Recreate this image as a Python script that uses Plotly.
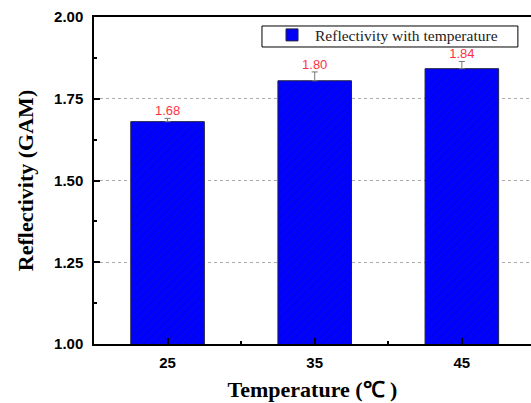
import plotly.graph_objects as go

temps = [25, 35, 45]
reflectivity = [1.68, 1.805, 1.842]
errors = [0.01, 0.027, 0.022]
labels = ["1.68", "1.80", "1.84"]
series_name = "Reflectivity with temperature"

fig = go.Figure()
fig.add_trace(go.Bar(
    x=temps, y=reflectivity, width=5, base=0,
    name=series_name,
    marker=dict(color="#0000ff", line=dict(color="#222244", width=1),
                pattern=dict(shape="/", fgcolor="#1a1a8c", size=6, solidity=0.15)),
    error_y=dict(type="data", array=errors, arrayminus=[0, 0, 0], symmetric=False,
                 color="#777777", thickness=1, width=3),
))
fig.add_trace(go.Scatter(
    x=temps, y=[v + e for v, e in zip(reflectivity, errors)], text=labels,
    mode="text", textposition="top center", showlegend=False,
    textfont=dict(family="Liberation Sans, Arial", size=13, color="#ff3344"),
    cliponaxis=False,
))

# legend frame (compact box like the original)
fig.add_shape(type="rect", xref="paper", yref="paper",
              x0=0.3844, x1=0.970, y0=0.9083, y1=0.9725,
              line=dict(color="black", width=1), fillcolor="white", layer="above")

fig.update_layout(
    width=531, height=403,
    margin=dict(l=94, r=0, t=17, b=59, autoexpand=False),
    plot_bgcolor="white", paper_bgcolor="white",
    showlegend=True,
    legend=dict(x=0.4005, y=0.996, xanchor="left", yanchor="top",
                borderwidth=0, bgcolor="rgba(0,0,0,0)",
                font=dict(family="Liberation Serif, Times New Roman", size=15.5, color="#222222"),
                itemwidth=36, tracegroupgap=0),
    xaxis=dict(range=[20, 49.7], tickvals=temps, ticktext=[str(t) for t in temps],
               automargin=False,
               ticks="inside", ticklen=6, tickwidth=1.5, tickcolor="black",
               ticklabelstandoff=4,
               minor=dict(tickvals=[30, 40], ticks="inside", ticklen=3, tickcolor="black"),
               showline=True, linecolor="black", linewidth=1.5, mirror=True,
               showgrid=False, zeroline=False,
               tickfont=dict(family="Liberation Sans, Arial", size=15, color="black", weight="bold"),
               title=dict(text="Temperature (℃ )", standoff=12,
                          font=dict(family="Liberation Serif, Times New Roman", size=22,
                                    color="black", weight="bold"))),
    yaxis=dict(range=[1.0, 2.0], tickvals=[1.0, 1.25, 1.5, 1.75, 2.0],
               ticktext=["1.00", "1.25", "1.50", "1.75", "2.00"],
               automargin=False,
               ticks="inside", ticklen=6, tickwidth=1.5, tickcolor="black",
               ticklabelstandoff=6,
               minor=dict(tickvals=[1.125, 1.375, 1.625, 1.875], ticks="inside", ticklen=3,
                          tickcolor="black", showgrid=False),
               showline=True, linecolor="black", linewidth=1.5,
               showgrid=True, gridcolor="#aaaaaa", griddash="dot", gridwidth=1,
               zeroline=False,
               tickfont=dict(family="Liberation Sans, Arial", size=15, color="black", weight="bold"),
               title=dict(text="Reflectivity (GAM)", standoff=14,
                          font=dict(family="Liberation Serif, Times New Roman", size=22,
                                    color="black", weight="bold"))),
)

fig.write_html("out.html", config={"displayModeBar": False},
               post_script="document.body.style.margin='0';document.body.style.overflow='hidden';")
